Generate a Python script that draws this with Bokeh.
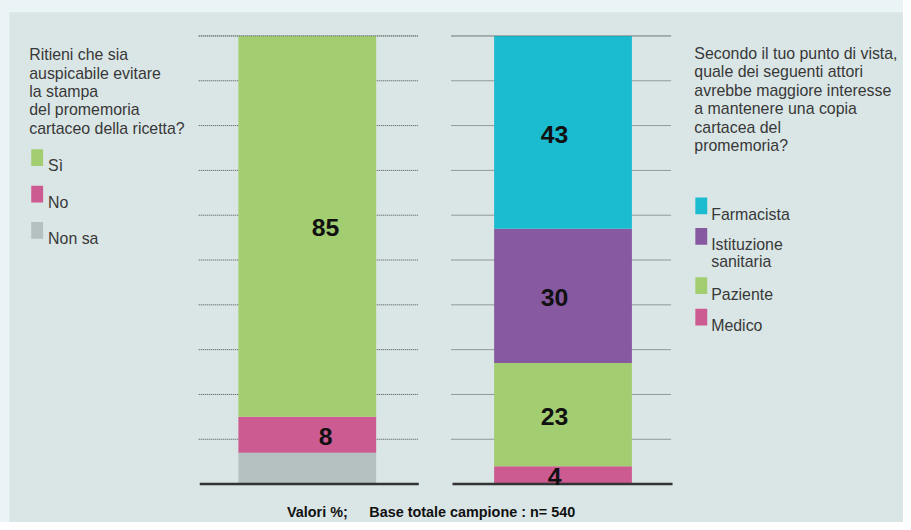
from bokeh.plotting import figure
from bokeh.models import Range1d, BoxAnnotation
from bokeh.core.properties import value
from bokeh.embed import file_html
from bokeh.resources import INLINE

# ---------------- data ----------------
q1_categories = ["Sì", "No", "Non sa"]
q1_values = [85, 8, 7]
q1_show_label = [True, True, False]

q2_categories = ["Farmacista", "Istituzione\nsanitaria", "Paziente", "Medico"]
q2_values = [43, 30, 23, 4]

grid_levels = [10, 20, 30, 40, 50, 60, 70, 80, 90, 100]

q1_title = ["Ritieni che sia", "auspicabile evitare", "la stampa",
            "del promemoria", "cartaceo della ricetta?"]
q2_title = ["Secondo il tuo punto di vista,", "quale dei seguenti attori",
            "avrebbe maggiore interesse", "a mantenere una copia",
            "cartacea del", "promemoria?"]
footer_left = "Valori %;"
footer_right = "Base totale campione : n= 540"

# ---------------- styles ----------------
PANEL = "#DAE6E6"
OUTER = "#EAF4F7"
GREEN = "#A2CD71"
PINK = "#CC5B91"
GREY = "#B5C0C0"
CYAN = "#1BBBD0"
PURPLE = "#8659A1"
TEXT = "#383838"
q1_colors = [GREEN, PINK, GREY]
q2_colors = [CYAN, PURPLE, GREEN, PINK]

W, H = 903, 522          # figure size (fits the window with its 8px margin)
REF_W, REF_H = 911, 530  # layout designed in reference pixels, scaled to the figure
PX_PER_UNIT = 4.55       # reference pixels per percentage point
BASE_Y = 491             # reference pixel row of the 0 line
SCALE = W / REF_W

def vy(ref_y):
    """reference pixel row -> data value"""
    return (BASE_Y - ref_y) / PX_PER_UNIT

def fs(px):
    return f"{px * SCALE:.1f}px"

p = figure(width=W, height=H, output_backend="svg", toolbar_location=None,
           x_range=Range1d(0, REF_W), y_range=Range1d(vy(REF_H), vy(0)),
           x_axis_location=None, y_axis_location=None,
           min_border=0, background_fill_color=PANEL, border_fill_color=PANEL,
           outline_line_color=None)
p.grid.visible = False

# outer frame strips
p.add_layout(BoxAnnotation(bottom=vy(12), fill_color=OUTER, fill_alpha=1, line_color=None))
p.add_layout(BoxAnnotation(right=9, fill_color=OUTER, fill_alpha=1, line_color=None))

FONT = value("Liberation Sans")

# column geometry (reference px)
cols = [
    dict(grid=(200, 421), center=309.5, width=139, label_x=328),
    dict(grid=(455, 677), center=567.5, width=139, label_x=559),
]

for c in cols:
    n = len(grid_levels)
    p.segment(x0=[c["grid"][0]] * n, x1=[c["grid"][1]] * n, y0=grid_levels, y1=grid_levels,
              line_color="#4a4a4a", line_width=1, line_dash="1 1")

def stack(values):
    bottoms, tops = [], []
    acc = 0
    for v in values:
        bottoms.append(acc)
        acc += v
        tops.append(acc)
    return bottoms, tops

# Q1 stacked: bottom -> top order is Non sa, No, Sì
q1_order = list(reversed(range(len(q1_values))))
b1, t1 = stack([q1_values[i] for i in q1_order])
p.vbar(x=[cols[0]["center"]] * len(b1), width=cols[0]["width"], bottom=b1, top=t1,
       fill_color=[q1_colors[i] for i in q1_order], line_color=None)

q2_order = list(reversed(range(len(q2_values))))
b2, t2 = stack([q2_values[i] for i in q2_order])
p.vbar(x=[cols[1]["center"]] * len(b2), width=cols[1]["width"], bottom=b2, top=t2,
       fill_color=[q2_colors[i] for i in q2_order], line_color=None)

# top dotted line stays visible over the bars
for c in cols:
    p.segment(x0=[c["grid"][0]], x1=[c["grid"][1]], y0=[grid_levels[-1]], y1=[grid_levels[-1]],
              line_color="#4a4a4a", line_width=1, line_dash="1 1", line_alpha=0.6)

# baselines
for c in cols:
    p.segment(x0=[c["grid"][0] + 1], x1=[c["grid"][1] + 1], y0=[0], y1=[0],
              line_color="#333333", line_width=2.5)

# value labels
lx, ly, lt = [], [], []
for k, i in enumerate(q1_order):
    if q1_show_label[i]:
        lx.append(cols[0]["label_x"]); ly.append((b1[k] + t1[k]) / 2 - 0.3); lt.append(str(q1_values[i]))
for k, i in enumerate(q2_order):
    lx.append(cols[1]["label_x"]); ly.append((b2[k] + t2[k]) / 2 - 0.4); lt.append(str(q2_values[i]))
p.text(x=lx, y=ly, text=lt, text_font=FONT, text_font_style="bold", text_font_size=fs(25),
       text_align="center", text_baseline="middle", text_color="#111111")

# question texts
q1_base = [55, 74, 92.5, 111, 130]
p.text(x=[29] * len(q1_title), y=[vy(b) for b in q1_base], text=q1_title, text_font=FONT,
       text_font_size=fs(16), text_color=TEXT, text_baseline="alphabetic")
q2_base = [53.5, 72.3, 91, 110, 129, 147.5]
p.text(x=[700] * len(q2_title), y=[vy(b) for b in q2_base], text=q2_title, text_font=FONT,
       text_font_size=fs(16), text_color=TEXT, text_baseline="alphabetic")

# legend Q1
q1_leg_y = [159.5, 196.5, 233.5]
p.rect(x=[37] * 3, y=[vy(v) for v in q1_leg_y], width=12, height=17 / PX_PER_UNIT,
       fill_color=q1_colors, line_color=None)
p.text(x=[48] * 3, y=[vy(v + 8.5) for v in q1_leg_y], text=q1_categories, text_font=FONT,
       text_font_size=fs(16), text_color=TEXT, text_baseline="alphabetic")

# legend Q2
q2_leg_y = [208.5, 239.5, 289.5, 321.5]
p.rect(x=[707] * 4, y=[vy(v) for v in q2_leg_y], width=12, height=17 / PX_PER_UNIT,
       fill_color=q2_colors, line_color=None)
leg_x, leg_y, leg_t = [], [], []
for yy, name in zip(q2_leg_y, q2_categories):
    for j, line in enumerate(name.split("\n")):
        leg_x.append(717); leg_y.append(vy(yy + 8.5 + j * 17.5)); leg_t.append(line)
p.text(x=leg_x, y=leg_y, text=leg_t, text_font=FONT, text_font_size=fs(16),
       text_color=TEXT, text_baseline="alphabetic")

# footer
p.text(x=[289, 372], y=[vy(519), vy(519)], text=[footer_left, footer_right], text_font=FONT,
       text_font_style="bold", text_font_size=fs(14.5), text_color="#111111",
       text_baseline="alphabetic")

open("out.html", "w").write(file_html(p, INLINE))
